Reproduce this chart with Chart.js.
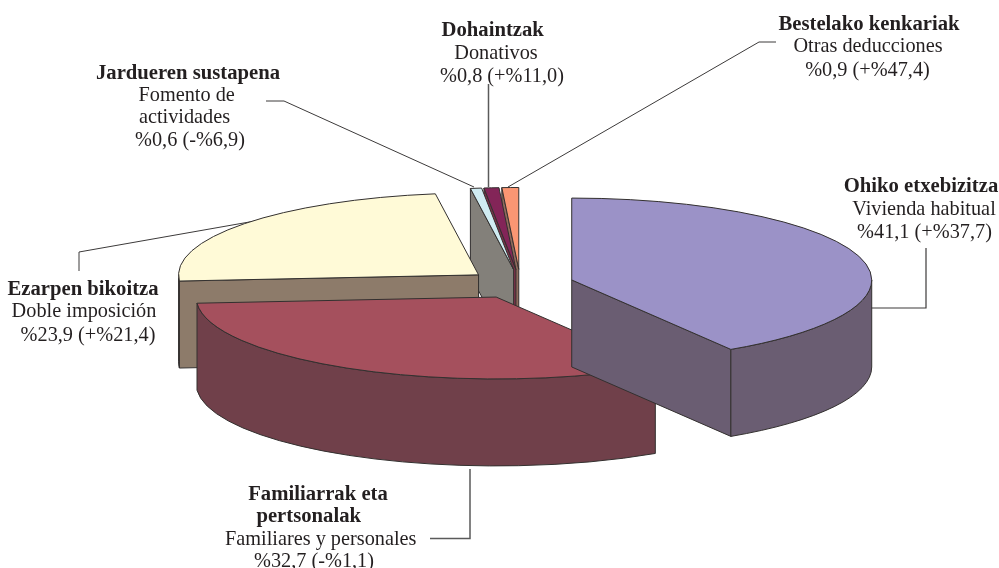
<!DOCTYPE html>
<html>
<head>
<meta charset="utf-8">
<style>
html,body{margin:0;padding:0;background:#fff;overflow:hidden}
#wrap{width:999px;height:568px;position:relative}
</style>
<script src="https://cdn.jsdelivr.net/npm/chart.js@4/dist/chart.umd.min.js"></script>
</head>
<body>
<div id="wrap"><canvas id="c" width="999" height="568"></canvas></div>
<script>
// ---- data ----
const categories = ['Ohiko etxebizitza','Familiarrak eta personalak','Ezarpen bikoitza','Jardueren sustapena','Dohaintzak','Bestelako kenkariak'];
const shares  = [41.1, 32.7, 23.9, 0.6, 0.8, 0.9];
const changes = ['+%37,7','-%1,1','+%21,4','-%6,9','+%11,0','+%47,4'];
const spanish = ['Vivienda habitual','Familiares y personales','Doble imposición','Fomento de actividades','Donativos','Otras deducciones'];

// ---- styles ----
const topColors  = ['#9b92c7','#a5505d','#fffad7','#d0ecf2','#832558','#fa9673'];
const wallColors = ['#6a5d72','#70404a','#8d7b6a','#83807a','#7a3048','#8f6a5c'];
const outline = '#33302f';
const inkColor = '#231f20';
const tilt = 0.273, depth = 87, explode = 53.5, pieRadius = 300;
const drawOrder = [5,4,3,2,1,0];
const serif = '"Liberation Serif","Times New Roman",serif';
const boldSize = 20.7, plainSize = 20.3;

// [text, bold, centre x, baseline y] for each category
const labelLayout = [
  [[categories[0],1,921,192],[spanish[0],0,924,215],[null,0,924.5,238]],
  [['Familiarrak eta',1,318,500],['pertsonalak',1,308.7,522],[spanish[1],0,320.7,545],[null,0,314,567]],
  [[categories[2],1,83,295],[spanish[2],0,84,317],[null,0,88,341]],
  [[categories[3],1,188,78.7],['Fomento de',0,186.7,101],['actividades',0,184.5,123],[null,0,190,146]],
  [[categories[4],1,492.7,36],[spanish[4],0,496,59],[null,0,502,82]],
  [[categories[5],1,869,30],[spanish[5],0,868,52],[null,0,867.5,76]]
];
// points, colour, width
const leaders = [
  [[[926,248],[926,308],[871,308]],'#3c3a3a',1.2],
  [[[430,538.5],[470,538.5],[470,469]],'#5a5a5a',1.5],
  [[[79,271],[79,252],[255,221]],'#3c3a3a',1],
  [[[266,101],[284,101],[474,187]],'#3c3a3a',1],
  [[[488.5,84],[488.5,187]],'#5a5a5a',1.5],
  [[[776,42],[759,42],[508,187]],'#3c3a3a',1]
];
function valueLine(i){
  return '%' + shares[i].toFixed(1).replace('.',',') + ' (' + changes[i] + ')';
}

const pie3d = {
  id:'pie3d',
  beforeDatasetDraw(chart, args){
    const ctx = chart.ctx;
    const arcs = args.meta.data;

    // leader lines sit behind the pie
    ctx.save();
    leaders.forEach(([pts,col,w])=>{
      ctx.strokeStyle = col; ctx.lineWidth = w;
      ctx.beginPath();
      pts.forEach((p,j)=> j ? ctx.lineTo(p[0],p[1]) : ctx.moveTo(p[0],p[1]));
      ctx.stroke();
    });
    ctx.restore();

    drawOrder.forEach(i=>{
      const a = arcs[i];
      const mid = (a.startAngle + a.endAngle)/2;
      const r = a.outerRadius;
      const px = a.x + Math.cos(mid)*explode;
      const py = a.y + Math.sin(mid)*explode*tilt;
      const ex = t => px + Math.cos(t)*r;
      const ey = t => py + Math.sin(t)*r*tilt;

      ctx.save();
      ctx.fillStyle = wallColors[i];
      ctx.strokeStyle = outline;
      ctx.lineWidth = 1;
      ctx.lineJoin = 'round';

      const quad = t => {
        ctx.beginPath();
        ctx.moveTo(px,py); ctx.lineTo(ex(t),ey(t));
        ctx.lineTo(ex(t),ey(t)+depth); ctx.lineTo(px,py+depth);
        ctx.closePath(); ctx.fill(); ctx.stroke();
      };
      // a cut face is visible when its outward normal points toward the viewer
      if (Math.cos(a.startAngle) < -1e-6) quad(a.startAngle);
      if (Math.cos(a.endAngle) > 1e-6) quad(a.endAngle);
      // outer rim: the visible part is the front half of the ellipse
      const from = Math.max(a.startAngle, 0), to = Math.min(a.endAngle, Math.PI);
      if (to > from) {
        ctx.beginPath();
        ctx.ellipse(px,py,r,r*tilt,0,from,to);
        ctx.lineTo(ex(to),ey(to)+depth);
        ctx.ellipse(px,py+depth,r,r*tilt,0,to,from,true);
        ctx.closePath(); ctx.fill(); ctx.stroke();
      }
      ctx.restore();

      // top face: the library's own arc under a tilted transform
      ctx.save();
      ctx.translate(px, py);
      ctx.scale(1, tilt);
      ctx.translate(-a.x, -a.y);
      a.draw(ctx);
      ctx.restore();

      // outline in unscaled pixels
      ctx.save();
      ctx.strokeStyle = outline; ctx.lineWidth = 1; ctx.lineJoin = 'round';
      ctx.beginPath();
      ctx.moveTo(px,py);
      ctx.ellipse(px,py,r,r*tilt,0,a.startAngle,a.endAngle);
      ctx.closePath();
      ctx.stroke();
      ctx.restore();
    });

    // text
    ctx.save();
    ctx.fillStyle = inkColor;
    ctx.textAlign = 'center';
    ctx.textBaseline = 'alphabetic';
    labelLayout.forEach((lines,i)=>{
      lines.forEach(l=>{
        ctx.font = (l[1] ? 'bold ' + boldSize : plainSize) + 'px ' + serif;
        ctx.fillText(l[0] === null ? valueLine(i) : l[0], l[2], l[3]);
      });
    });
    ctx.restore();
    return false;
  }
};

new Chart(document.getElementById('c'),{
  type:'pie',
  data:{labels:categories,datasets:[{data:shares,backgroundColor:topColors,borderWidth:0}]},
  options:{
    responsive:false,animation:false,
    radius:pieRadius,rotation:0,
    layout:{padding:{left:41.6,right:0,top:0,bottom:0}},
    plugins:{legend:{display:false},tooltip:{enabled:false}},
    events:[]
  },
  plugins:[pie3d]
});
</script>
</body>
</html>
